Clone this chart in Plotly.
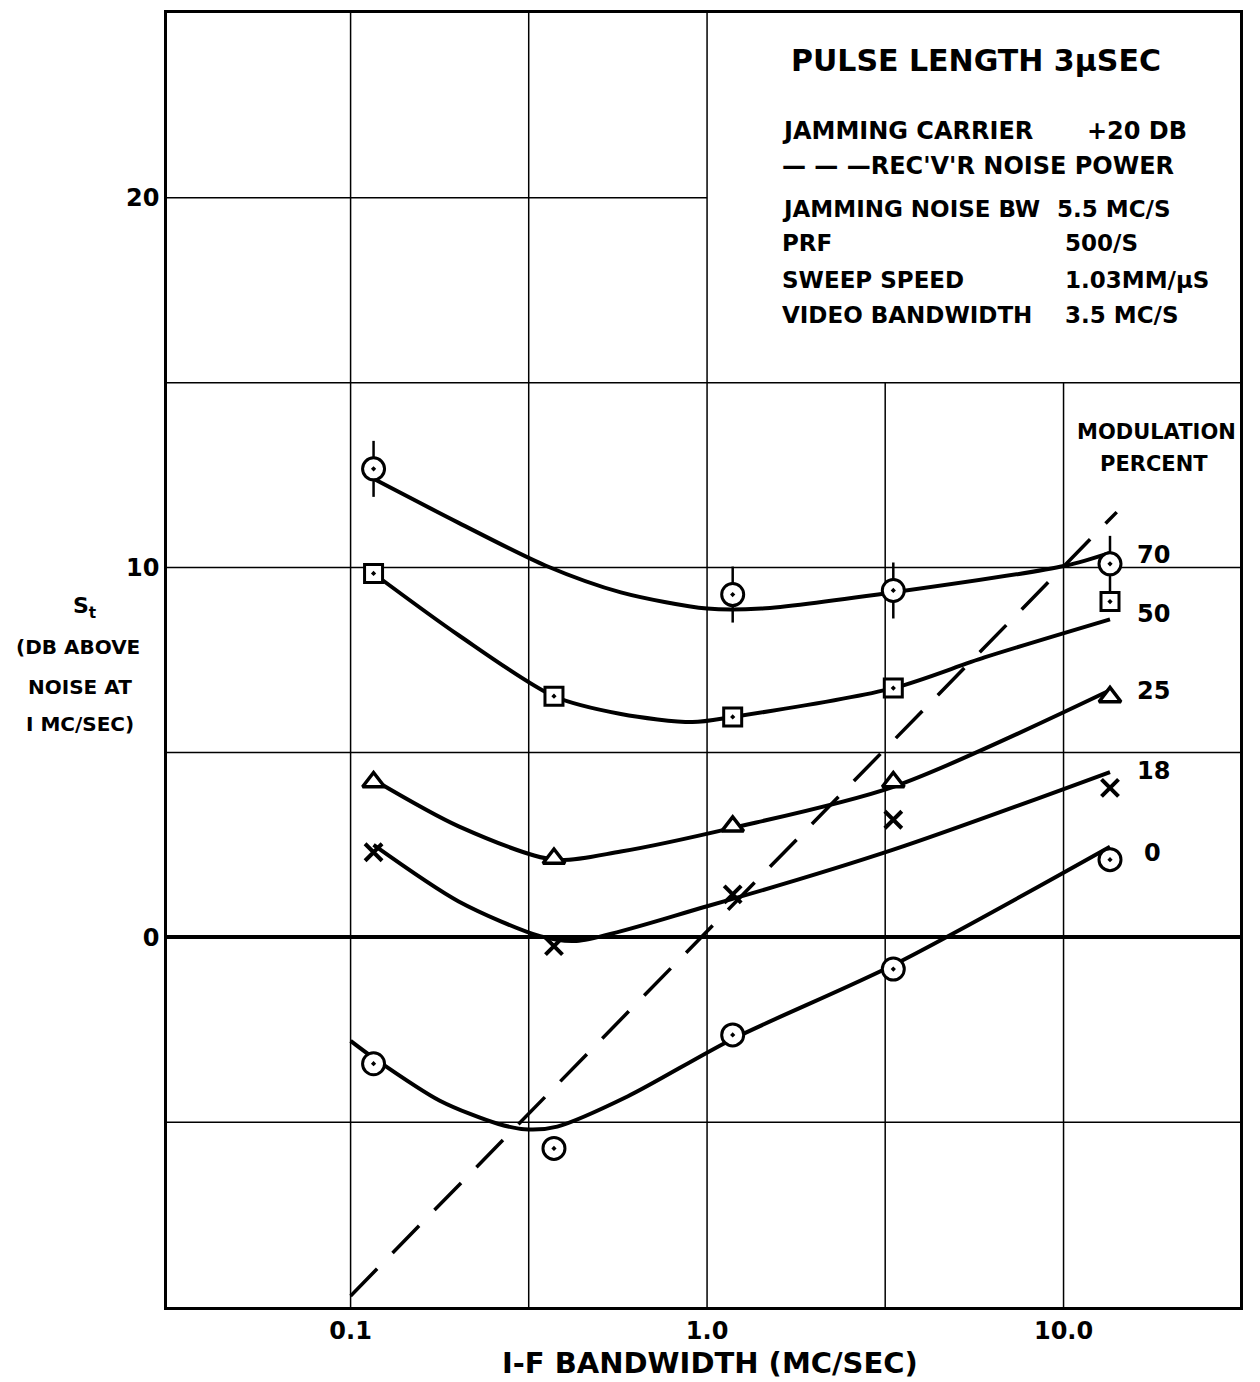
import math
import plotly.graph_objects as go

# ---------------------------------------------------------------
# Threshold signal S_t vs I-F bandwidth, pulse length 3 usec
# ---------------------------------------------------------------

# measured points (I-F bandwidth, MC/SEC)
bw_points = [0.116, 0.372, 1.18, 3.33, 13.5]
bw_points_70 = [0.116, 1.18, 3.33, 13.5]

st_70 = [12.67, 9.27, 9.38, 10.1]
st_50 = [9.84, 6.52, 5.96, 6.74, 9.08]
st_25 = [4.2, 2.13, 3.0, 4.2, 6.5]
st_18 = [2.3, -0.24, 1.16, 3.18, 4.04]
st_0 = [-3.42, -5.71, -2.64, -0.86, 2.10]

# faired curves drawn through each family of points
curve_70_x = [0.116, 0.201, 0.353, 0.573, 1.0, 1.42, 3.33, 10.1, 13.5]
curve_70_y = [12.40, 11.21, 10.05, 9.33, 8.89, 8.89, 9.33, 10.05, 10.40]

curve_50_x = [0.116, 0.201, 0.372, 0.573, 0.91, 1.18, 3.33, 6.0, 13.5]
curve_50_y = [9.84, 8.17, 6.52, 6.04, 5.82, 5.96, 6.74, 7.57, 8.60]

curve_25_x = [0.116, 0.201, 0.372, 0.573, 1.18, 3.33, 13.5]
curve_25_y = [4.26, 3.00, 2.10, 2.32, 2.96, 4.07, 6.68]

curve_18_x = [0.116, 0.201, 0.34, 0.43, 1.0, 3.33, 13.5]
curve_18_y = [2.50, 0.97, 0.03, -0.10, 0.84, 2.37, 4.47]

curve_0_x = [0.1, 0.116, 0.178, 0.26, 0.316, 0.38, 0.60, 1.18, 3.33, 13.5]
curve_0_y = [-2.80, -3.26, -4.42, -5.05, -5.20, -5.12, -4.30, -2.75, -0.75, 2.45]

# receiver noise power reference (dashed)
noise_x = [0.1, 14.1]
noise_y = [-9.7, 11.5]

modulation_labels = ["70", "50", "25", "18", "0"]

x_tick_vals = [0.1, 1.0, 10.0]
x_tick_text = ["0.1", "1.0", "10.0"]
y_tick_vals = [0, 10, 20]
y_tick_text = ["0", "10", "20"]

# grid rulings (the upper-right panel carries the test conditions)
grid_x_full = [0.1, 0.316, 1.0]
grid_x_lower = [3.16, 10.0]
grid_y_full = [-5, 5, 10, 15]
grid_y_left = [20]

X_RANGE = [-1.515, 1.495]   # log10 of the bandwidth span
Y_RANGE = [-10, 25]

FONT = "DejaVu Sans"
INK = "black"

# plot-area geometry in pixels (used to place text in paper units)
W, H = 1260, 1382
L, R, T, B = 167, 20, 10, 75
PW, PH = W - L - R, H - T - B


def px(x):
    return (x - L) / PW


def py(y):
    return (H - B - y) / PH


def lx(v):
    """paper x of a bandwidth value on the log axis"""
    return (math.log10(v) - X_RANGE[0]) / (X_RANGE[1] - X_RANGE[0])


fig = go.Figure()

# grid rulings
shapes = []
grid_line = dict(color=INK, width=1.5)
for v in grid_x_full:
    shapes.append(dict(type="line", xref="paper", yref="y",
                       x0=lx(v), x1=lx(v), y0=Y_RANGE[0], y1=Y_RANGE[1],
                       line=grid_line, layer="below"))
for v in grid_x_lower:
    shapes.append(dict(type="line", xref="paper", yref="y",
                       x0=lx(v), x1=lx(v), y0=Y_RANGE[0], y1=15,
                       line=grid_line, layer="below"))
for v in grid_y_full:
    shapes.append(dict(type="line", xref="paper", yref="y",
                       x0=0, x1=1, y0=v, y1=v,
                       line=grid_line, layer="below"))
for v in grid_y_left:
    shapes.append(dict(type="line", xref="paper", yref="y",
                       x0=0, x1=lx(1.0), y0=v, y1=v,
                       line=grid_line, layer="below"))

# dashed receiver-noise line
fig.add_trace(go.Scatter(
    x=noise_x, y=noise_y, mode="lines",
    line=dict(color=INK, width=3.5, dash="38px,22px"),
    hoverinfo="skip"))

# faired curves
for cx, cy in [(curve_70_x, curve_70_y), (curve_50_x, curve_50_y),
               (curve_25_x, curve_25_y), (curve_18_x, curve_18_y),
               (curve_0_x, curve_0_y)]:
    fig.add_trace(go.Scatter(
        x=cx, y=cy, mode="lines",
        line=dict(color=INK, width=4, shape="spline", smoothing=0.8),
        hoverinfo="skip"))

# 70 % points: circle with vertical ticks
fig.add_trace(go.Scatter(
    x=bw_points_70, y=st_70, mode="markers",
    marker=dict(symbol="line-ns-open", size=40, color=INK,
                line=dict(color=INK, width=2.5)),
    hoverinfo="skip"))
fig.add_trace(go.Scatter(
    x=bw_points_70, y=st_70, mode="markers",
    marker=dict(symbol="circle-dot", size=22, color="white",
                line=dict(color=INK, width=3))))

# 50 % points: squares
fig.add_trace(go.Scatter(
    x=bw_points, y=st_50, mode="markers",
    marker=dict(symbol="square-dot", size=18, color="white",
                line=dict(color=INK, width=3))))

# 25 % points: triangles
fig.add_trace(go.Scatter(
    x=bw_points, y=st_25, mode="markers",
    marker=dict(symbol="triangle-up", size=19, color="white",
                line=dict(color=INK, width=3.5))))

# 18 % points: crosses
fig.add_trace(go.Scatter(
    x=bw_points, y=st_18, mode="markers",
    marker=dict(symbol="x-thin", size=17, color=INK,
                line=dict(color=INK, width=4))))

# 0 % points: circles with center dot
fig.add_trace(go.Scatter(
    x=bw_points, y=st_0, mode="markers",
    marker=dict(symbol="circle-dot", size=22, color="white",
                line=dict(color=INK, width=3))))

axis_common = dict(
    showline=True, mirror=True, linecolor=INK, linewidth=2.5,
    showgrid=False, ticks="",
    tickfont=dict(family=FONT, size=24, color=INK, weight="bold"),
)

fig.update_xaxes(
    type="log", range=X_RANGE,
    tickvals=x_tick_vals, ticktext=x_tick_text,
    zeroline=False, **axis_common)

fig.update_yaxes(
    range=Y_RANGE,
    tickvals=y_tick_vals, ticktext=y_tick_text,
    zeroline=True, zerolinecolor=INK, zerolinewidth=3.5,
    **axis_common)

annotations = []


def text(s, x, y, size=23, anchor="left"):
    annotations.append(dict(
        text=s, x=px(x), y=py(y), xref="paper", yref="paper",
        xanchor=anchor, yanchor="middle", showarrow=False,
        font=dict(family=FONT, size=size, color=INK, weight="bold")))


# test-condition block
text("PULSE LENGTH 3\u00b5SEC", 976, 58, size=30, anchor="center")
text("JAMMING CARRIER", 780, 128, size=24)
text("+20 DB", 1085, 128, size=24)
text("\u2014 \u2014 \u2014REC'V'R NOISE POWER", 780, 163, size=24)
text("JAMMING NOISE BW", 780, 206)
text("5.5 MC/S", 1055, 206)
text("PRF", 780, 241)
text("500/S", 1063, 241)
text("SWEEP SPEED", 780, 278)
text("1.03MM/\u00b5S", 1063, 278)
text("VIDEO BANDWIDTH", 780, 313)
text("3.5 MC/S", 1063, 313)

# modulation-percent key
text("MODULATION", 1156, 430, size=21, anchor="center")
text("PERCENT", 1154, 462, size=21, anchor="center")
for lab, yy, xx in zip(modulation_labels, [553, 612, 690, 770, 852],
                       [1153, 1153, 1153, 1153, 1152]):
    text(lab, xx, yy, size=24, anchor="center")

# y-axis caption
text("S<sub>t</sub>", 84, 606, size=22, anchor="center")
text("(DB ABOVE", 78, 645, size=20, anchor="center")
text("NOISE AT", 80, 686, size=20, anchor="center")
text("I MC/SEC)", 80, 723, size=20, anchor="center")

# x-axis caption
text("I-F BANDWIDTH (MC/SEC)", 710, 1363, size=29, anchor="center")

fig.update_layout(
    width=W, height=H,
    margin=dict(l=L, r=R, t=T, b=B),
    plot_bgcolor="white", paper_bgcolor="white",
    showlegend=False,
    annotations=annotations,
    shapes=shapes,
)

fig.write_html("out.html")
